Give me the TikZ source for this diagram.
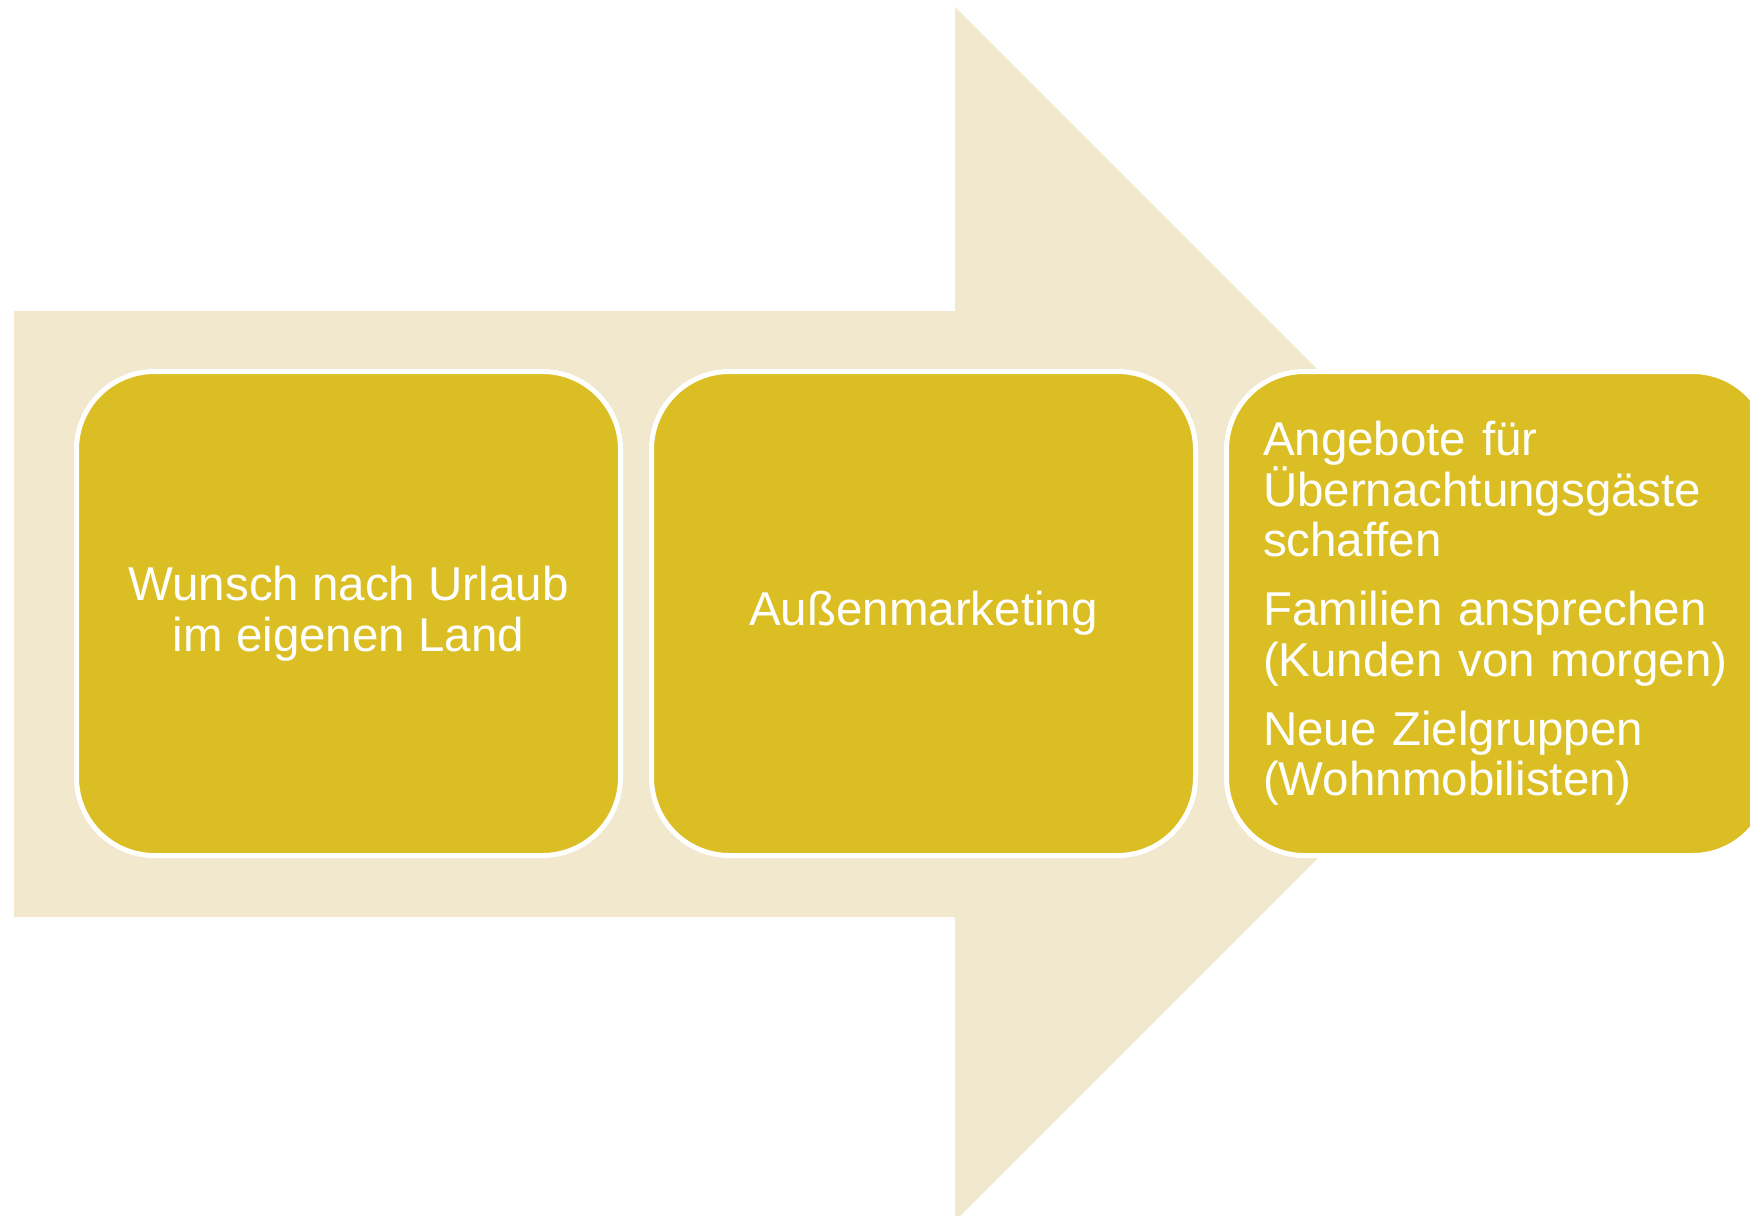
\documentclass[tikz,border=0pt]{standalone}
\usepackage{fontspec}
\setmainfont{Liberation Sans}
\definecolor{beige}{RGB}{242,232,206}
\definecolor{mustard}{RGB}{219,190,36}
\begin{document}
\begin{tikzpicture}[x=1pt,y=-1pt,
  stagebox/.style={draw=white, line width=5pt, fill=mustard, rounded corners=78pt,
    minimum width=544pt, minimum height=484pt, inner sep=0pt, text=white,
    font=\fontsize{47.5}{50.5}\selectfont},
  bigarrow/.style={fill=beige}
]
\useasboundingbox (0,0) rectangle (1750,1215);
\clip (0,0) rectangle (1750,1215);
\fill[bigarrow] (14,311) -- (955,311) -- (955,7) -- (1562,614) -- (955,1221) -- (955,917) -- (14,917) -- cycle;
\node[stagebox, align=center] (b1) at (348.5,613.5) {Wunsch nach Urlaub\\im eigenen Land};
\node[stagebox, align=center] (b2) at (923.5,613.5) {Außenmarketing};
\node[stagebox, align=left, text width=471pt] (b3) at (1498.5,613.5)
  {Angebote für\\Übernachtungsgäste\\schaffen\\[18.5pt]Familien ansprechen\\(Kunden von morgen)\\[18.5pt]Neue Zielgruppen\\(Wohnmobilisten)};
\end{tikzpicture}
\end{document}
